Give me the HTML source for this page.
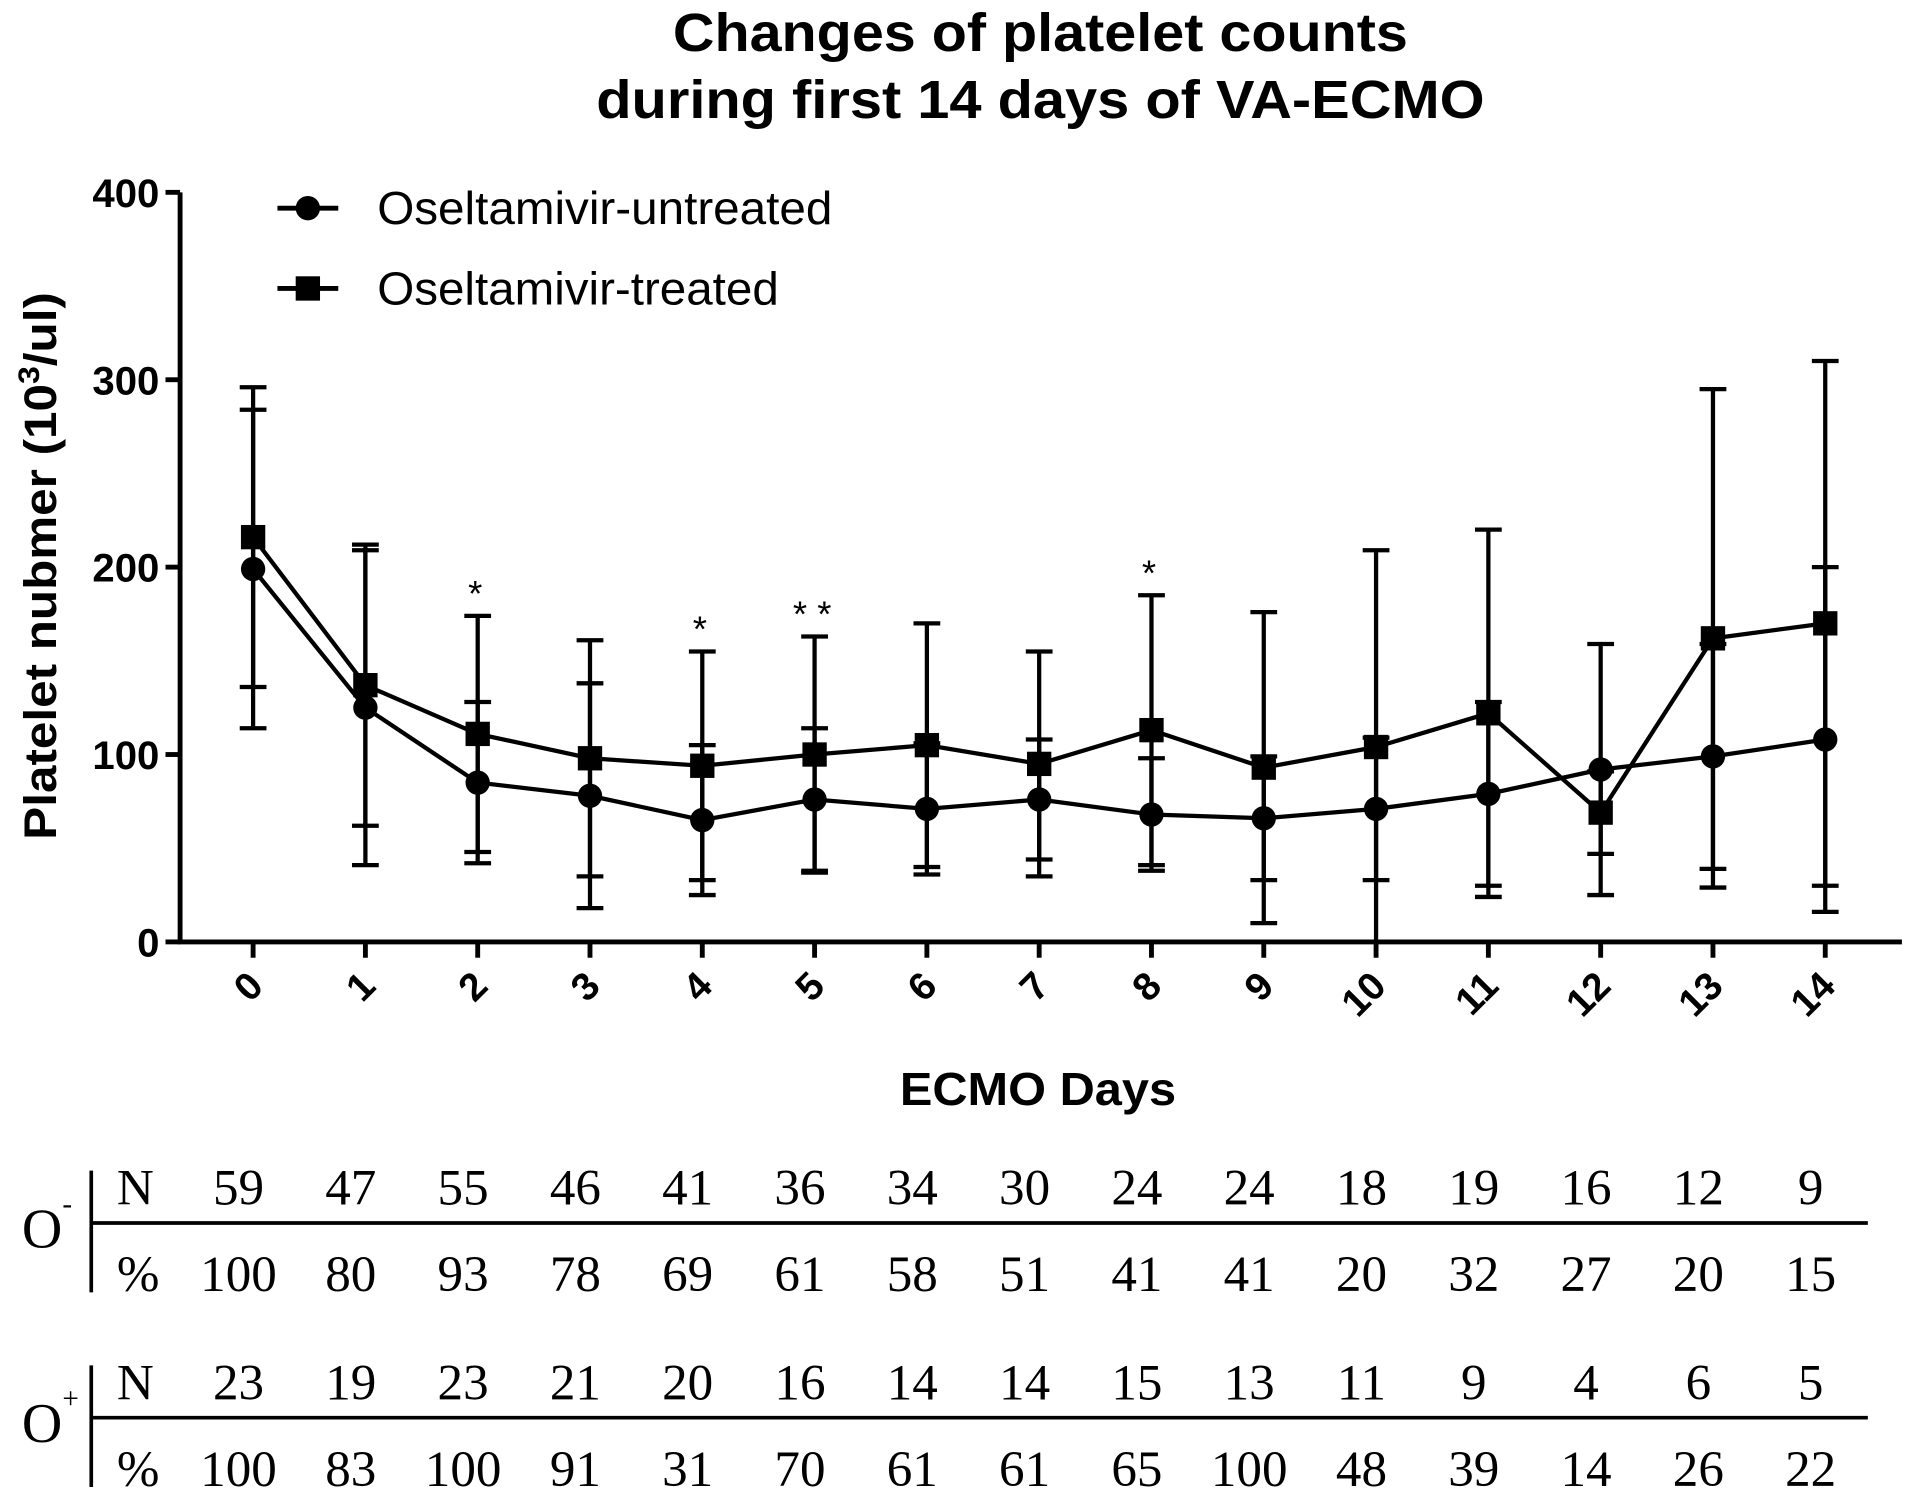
<!DOCTYPE html>
<html><head><meta charset="utf-8"><style>
html,body{margin:0;padding:0;background:#fff;}
svg{display:block;}
</style></head><body>
<svg id="chart" width="1908" height="1492" viewBox="0 0 1568 1226" xmlns="http://www.w3.org/2000/svg" font-family="'Liberation Sans', Arial, sans-serif">
<g font-weight="bold" font-size="44" text-anchor="middle" fill="#000">
<text x="855" y="42" textLength="604" lengthAdjust="spacingAndGlyphs">Changes of platelet counts</text>
<text x="855" y="97" textLength="730" lengthAdjust="spacingAndGlyphs">during first 14 days of VA-ECMO</text>
</g>
<g id="axes"></g>
<g id="series"></g>
<text x="853" y="908" font-size="38" font-weight="bold" text-anchor="middle" textLength="227" lengthAdjust="spacingAndGlyphs">ECMO Days</text>
<text transform="translate(46,465) rotate(-90)" font-size="37" font-weight="bold" text-anchor="middle" textLength="450" lengthAdjust="spacingAndGlyphs">Platelet nubmer (10<tspan font-size="24" dy="-14">3</tspan><tspan dy="14">/ul)</tspan></text>
<g>
<g>
<line x1="228" y1="171" x2="278" y2="171" stroke="#000" stroke-width="4"/>
<circle cx="253" cy="171" r="10"/>
<text x="310" y="184" font-size="38" textLength="374" lengthAdjust="spacingAndGlyphs">Oseltamivir-untreated</text>
</g>
<g>
<line x1="228" y1="237" x2="278" y2="237" stroke="#000" stroke-width="4"/>
<rect x="243" y="227" width="20" height="20"/>
<text x="310" y="250" font-size="38" textLength="330" lengthAdjust="spacingAndGlyphs">Oseltamivir-treated</text>
</g>
</g>
<g id="table" font-family="'Liberation Serif', 'Times New Roman', serif" font-size="42"></g>
</svg>
<script>
const days = [0,1,2,3,4,5,6,7,8,9,10,11,12,13,14];
const yTicks = [0,100,200,300,400];
const untreatedMean = [199,125,85,78,65,76,71,76,68,66,71,79,92,99,108];
const untreatedSD   = [85,84,43,60,40,38,35,32,30,33,38,49,67,60,92];
const treatedMean   = [216,137,111,98,94,100,105,95,113,93,104,122,69,162,170];
const treatedSD     = [80,75,63,63,61,63,65,60,72,83,105,98,22,133,140];
const sigDays  = [2,4,5,8];
const sigMarks = ["*","*","* *","*"];
const negN   = [59,47,55,46,41,36,34,30,24,24,18,19,16,12,9];
const negPct = [100,80,93,78,69,61,58,51,41,41,20,32,27,20,15];
const posN   = [23,19,23,21,20,16,14,14,15,13,11,9,4,6,5];
const posPct = [100,83,100,91,31,70,61,61,65,100,48,39,14,26,22];

const NS="http://www.w3.org/2000/svg";
function X(d){return 208 + d*(1500-208)/14;}
function Y(v){return 774 - v*(774-158)/400;}
function mk(tag,attrs,parent){const e=document.createElementNS(NS,tag);for(const k in attrs)e.setAttribute(k,attrs[k]);parent.appendChild(e);return e;}
const axes=document.getElementById('axes');
const series=document.getElementById('series');
const table=document.getElementById('table');

let yl=mk('line',{x1:148,y1:158,x2:148,y2:775,stroke:'#000','stroke-width':4},axes);


let xl=mk('line',{x1:146,y1:774,x2:1563,y2:774,stroke:'#000','stroke-width':4},axes);


yTicks.forEach(v=>{
  let t=mk('line',{x1:136,y1:Y(v),x2:148,y2:Y(v),stroke:'#000','stroke-width':4},axes);
  
  
  let l=mk('text',{x:131,y:Y(v)+12,'font-size':33,'font-weight':'bold','text-anchor':'end'},axes);
  l.textContent=v;
  
  
});
days.forEach(d=>{
  let t=mk('line',{x1:X(d),y1:774,x2:X(d),y2:787,stroke:'#000','stroke-width':4},axes);
  
  
  let l=mk('text',{transform:`translate(${X(d)+10},${812}) rotate(-45)`,'font-size':32,'font-weight':'bold','text-anchor':'end'},axes);
  l.textContent=d;
  
  
});

function errbar(x,m,s,name){
  const lo=Math.max(0,m-s), hi=m+s;
  let g=mk('g',{stroke:'#000','stroke-width':3.5},series);
  
  
  mk('line',{x1:x,y1:Y(hi),x2:x,y2:Y(lo)},g);
  mk('line',{x1:x-11,y1:Y(hi),x2:x+11,y2:Y(hi)},g);
  mk('line',{x1:x-11,y1:Y(lo),x2:x+11,y2:Y(lo)},g);
}
days.forEach((d,i)=>{errbar(X(d),treatedMean[i],treatedSD[i],'error-bar-treated');errbar(X(d),untreatedMean[i],untreatedSD[i],'error-bar-untreated');});

let p1=mk('polyline',{points:days.map((d,i)=>X(d)+','+Y(untreatedMean[i])).join(' '),fill:'none',stroke:'#000','stroke-width':3.5},series);


let p2=mk('polyline',{points:days.map((d,i)=>X(d)+','+Y(treatedMean[i])).join(' '),fill:'none',stroke:'#000','stroke-width':3.5},series);


days.forEach((d,i)=>{
  let c=mk('circle',{cx:X(d),cy:Y(untreatedMean[i]),r:10},series);
  
  
  let r=mk('rect',{x:X(d)-10,y:Y(treatedMean[i])-10,width:20,height:20},series);
  
  
});
sigDays.forEach((d,i)=>{
  const top=Math.max(treatedMean[d]+treatedSD[d],untreatedMean[d]+untreatedSD[d]);
  let t=mk('text',{x:X(d)-2,y:Y(top)-8,'font-size':30,'text-anchor':'middle'},series);
  t.textContent=sigMarks[i];
  
  
});

function block(label,supText,nArr,pArr,top){
  let g=mk('g',{},table);
  
  
  mk('line',{x1:75,y1:top,x2:75,y2:top+100,stroke:'#000','stroke-width':3},g);
  mk('line',{x1:75,y1:top+43,x2:1535,y2:top+43,stroke:'#000','stroke-width':3},g);
  let o=mk('text',{x:18,y:top+63,'font-size':46},g);
  o.textContent='O';
  let s=mk('tspan',{'font-size':24,dy:-28},o);
  s.textContent=supText;
  let n=mk('text',{x:96,y:top+28},g); n.textContent='N';
  let pc=mk('text',{x:96,y:top+99},g); pc.textContent='%';
  days.forEach((d,i)=>{
    let a=mk('text',{x:X(d)-12,y:top+28,'text-anchor':'middle'},g);
    a.textContent=nArr[i];
    
    
    let b=mk('text',{x:X(d)-12,y:top+99,'text-anchor':'middle'},g);
    b.textContent=pArr[i];
    
    
  });
}
block('-','-',negN,negPct,962);
block('+','+',posN,posPct,1122);
</script>
</body></html>
